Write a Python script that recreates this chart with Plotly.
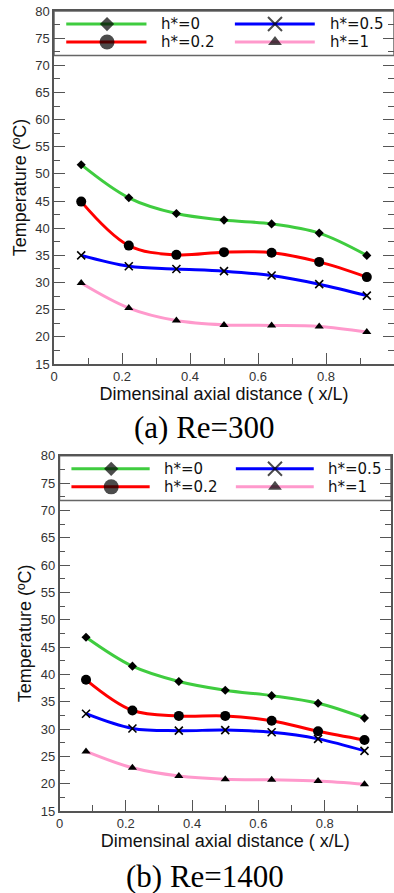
import plotly.graph_objects as go

# Dimensionless axial stations along the channel
x_over_L = [0.08, 0.22, 0.36, 0.50, 0.64, 0.78, 0.92]

# Temperature (deg C) at each station, Re = 300
re300_h0 = [51.7, 45.6, 42.7, 41.5, 40.8, 39.1, 35.0]
re300_h02 = [44.9, 36.8, 35.1, 35.6, 35.5, 33.8, 31.0]
re300_h05 = [35.0, 33.0, 32.5, 32.1, 31.3, 29.7, 27.6]
re300_h1 = [29.9, 25.3, 23.0, 22.2, 22.1, 21.9, 20.9]

# Temperature (deg C) at each station, Re = 1400
re1400_h0 = [46.8, 41.5, 38.7, 37.1, 36.1, 34.7, 32.0]
re1400_h02 = [39.0, 33.4, 32.4, 32.4, 31.5, 29.6, 28.0]
re1400_h05 = [32.8, 30.1, 29.7, 29.8, 29.4, 28.2, 26.0]
re1400_h1 = [25.9, 22.9, 21.4, 20.8, 20.7, 20.5, 19.9]

series_names = ["h*=0", "h*=0.2", "h*=0.5", "h*=1"]
captions = ["(a) Re=300", "(b) Re=1400"]

# style per series: line colour, marker symbol, marker size in plot, size in key
styles = {
    "h*=0": dict(color="#3fcc3f", symbol="diamond", size=7, key_size=11),
    "h*=0.2": dict(color="#ff0000", symbol="circle", size=10, key_size=15),
    "h*=0.5": dict(color="#0000ff", symbol="x-thin-open", size=8, key_size=14),
    "h*=1": dict(color="#ff99cc", symbol="triangle-up", size=8, key_size=12),
}

panels = [
    dict(data=[re300_h0, re300_h02, re300_h05, re300_h1],
         xdom=[54 / 394, 1.0], ydom=[1 - 364 / 893, 1 - 11 / 893],
         caption_y=1 - 427 / 893),
    dict(data=[re1400_h0, re1400_h02, re1400_h05, re1400_h1],
         xdom=[59.5 / 394, 391 / 394], ydom=[1 - 811 / 893, 1 - 455.7 / 893],
         caption_y=1 - 876 / 893),
]

# key box layout inside each panel (x in axis fraction, y in deg C)
KEY_BOX_BOTTOM = 71.8
KEY_ROWS = {"h*=0": (0, 77.6), "h*=0.5": (1, 77.6), "h*=0.2": (0, 74.3), "h*=1": (1, 74.3)}
KEY_COLS = [dict(x0=0.036, xm=0.156, x1=0.272, text_x=0.31),
            dict(x0=0.532, xm=0.65, x1=0.767, text_x=0.805)]

fig = go.Figure()
axis_font = dict(family="Liberation Sans, Arial, sans-serif", size=13, color="#333333")
title_font = dict(family="Liberation Sans, Arial, sans-serif", size=18, color="#111111")

for i, panel in enumerate(panels):
    xa = "x" if i == 0 else "x2"
    ya = "y" if i == 0 else "y2"
    for name, values in zip(series_names, panel["data"]):
        st = styles[name]
        fig.add_trace(go.Scatter(
            x=x_over_L, y=values, mode="lines+markers", name=name,
            xaxis=xa, yaxis=ya, showlegend=False,
            line=dict(color=st["color"], width=3, shape="spline", smoothing=1.0),
            marker=dict(symbol=st["symbol"], size=st["size"], color="black",
                        line=dict(color="black", width=1.6 if "x-thin" in st["symbol"] else 0)),
        ))
        # key entry: line sample with a marker in its middle
        col, ky = KEY_ROWS[name]
        kc = KEY_COLS[col]
        fig.add_trace(go.Scatter(
            x=[kc["x0"], kc["xm"], kc["x1"]], y=[ky, ky, ky],
            mode="lines+markers", xaxis=xa, yaxis=ya, showlegend=False, hoverinfo="skip",
            line=dict(color=st["color"], width=3),
            marker=dict(symbol=st["symbol"], size=[0, st["key_size"], 0], color="black",
                        line=dict(color="black", width=2 if "x-thin" in st["symbol"] else 0)),
        ))
        fig.add_annotation(x=kc["text_x"], y=ky, xref=xa, yref=ya, text=name,
                           showarrow=False, xanchor="left", yanchor="middle",
                           font=dict(family="DejaVu Sans, sans-serif", size=15, color="#111111"))

    # key frame spanning the top of the panel
    fig.add_shape(type="rect", xref=f"{xa} domain", yref=ya, x0=0, x1=1,
                  y0=KEY_BOX_BOTTOM, y1=80, layer="below",
                  fillcolor="white", line=dict(color="#666666", width=1.5))

    fig.add_annotation(x=0.52, y=panel["caption_y"], xref="paper", yref="paper",
                       text=captions[i], showarrow=False, xanchor="center", yanchor="middle",
                       font=dict(family="Liberation Serif, Times New Roman, serif", size=31,
                                 color="black"))

    common = dict(showgrid=False, zeroline=False, showline=True, linecolor="#555555",
                  linewidth=1.5, ticks="inside", ticklen=11, tickwidth=1.2,
                  tickcolor="#555555", tickfont=axis_font, automargin=False)
    xkey = "xaxis" if i == 0 else "xaxis2"
    ykey = "yaxis" if i == 0 else "yaxis2"
    fig.update_layout({
        xkey: dict(common, domain=panel["xdom"], range=[0, 1], dtick=0.2, tick0=0,
                   mirror=True, anchor=ya,
                   minor=dict(dtick=0.1, ticklen=6, ticks="inside", tickcolor="#555555"),
                   title=dict(text="Dimensinal axial distance ( x/L)", font=title_font,
                              standoff=3)),
        ykey: dict(common, domain=panel["ydom"], range=[15, 80], dtick=5, tick0=15,
                   mirror="ticks", anchor=xa,
                   minor=dict(dtick=2.5, ticklen=6, ticks="inside", tickcolor="#555555"),
                   title=dict(text="Temperature (ºC)", font=title_font, standoff=4)),
    })

fig.update_layout(
    width=394, height=893, margin=dict(l=0, r=0, t=0, b=0),
    paper_bgcolor="white", plot_bgcolor="white", showlegend=False,
)

fig.write_html("out.html")
